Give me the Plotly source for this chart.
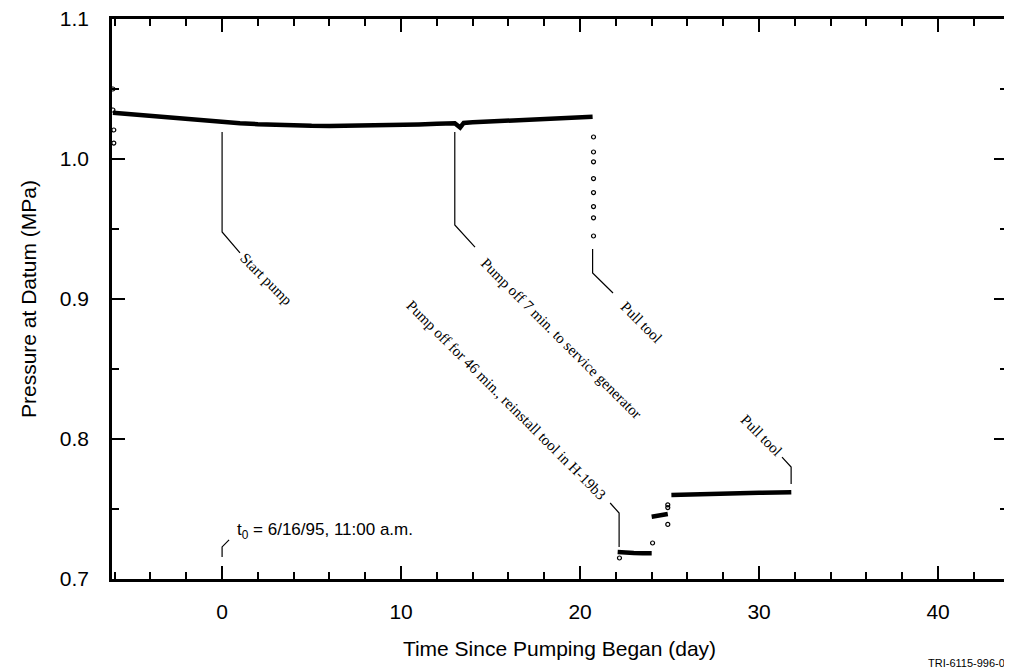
import plotly.graph_objects as go

# pressure record, days since pumping began / MPa
main_day = [-6.1, -5, -4, -3, -2, -1, 0, 1, 2, 3, 4, 5, 6, 7, 8, 9, 10, 11, 12,
            13, 13.3, 13.5, 14, 15, 16, 17, 18, 19, 20, 20.7]
main_p = [1.0330, 1.0318, 1.0306, 1.0295, 1.0285, 1.0274, 1.0265, 1.0256, 1.0249,
          1.0243, 1.0239, 1.0237, 1.0236, 1.0237, 1.0238, 1.0240, 1.0243, 1.0247,
          1.0252, 1.0256, 1.0225, 1.0258, 1.0262, 1.0268, 1.0274, 1.0280, 1.0286,
          1.0292, 1.0297, 1.0302]

low_day = [22.1, 22.5, 23.0, 23.5, 24.0]
low_p = [0.7192, 0.7186, 0.7185, 0.7184, 0.7184]

mid_day = [24.0, 24.3, 24.6, 24.9]
mid_p = [0.7445, 0.7452, 0.7458, 0.7464]

high_day = [25.1, 26, 27, 28, 29, 30, 31, 31.8]
high_p = [0.7600, 0.7604, 0.7608, 0.7611, 0.7614, 0.7616, 0.7618, 0.7620]

# scattered single readings (open circles)
pt_day = [-6.1, -6.1, -6.05, -6.05, 20.75, 20.75, 20.75, 20.75, 20.75, 20.75, 20.75,
          20.75, 22.2, 24.05, 24.9, 24.9, 24.9]
pt_p = [1.050, 1.035, 1.0207, 1.0114, 1.0157, 1.005, 0.998, 0.986, 0.976, 0.966,
        0.958, 0.945, 0.715, 0.7257, 0.753, 0.751, 0.739]

# annotation text: (label, centre day, centre MPa)
notes = [
    ("Start pump", 2.46, 0.9143),
    ("Pump off 7 min. to service generator", 18.91, 0.8718),
    ("Pull tool", 23.41, 0.8836),
    ("Pump off for 46 min., reinstall tool in H-19b3", 15.87, 0.8279),
    ("Pull tool", 30.11, 0.8029),
]

# leader lines, each a list of (day, MPa) vertices
leaders = [
    [(0, 1.0193), (0, 0.9479), (1.0, 0.9329)],
    [(13.0, 1.0193), (13.0, 0.9529), (14.13, 0.9371)],
    [(20.7, 0.9357), (20.7, 0.9186), (21.84, 0.9043)],
    [(21.68, 0.7543), (22.18, 0.7471), (22.18, 0.7229)],
    [(31.28, 0.7871), (31.79, 0.7800), (31.79, 0.7679)],
    [(0, 0.7157), (0, 0.7229), (0.39, 0.7279)],
]

fig = go.Figure()

for xs, ys in [(main_day, main_p), (low_day, low_p), (mid_day, mid_p), (high_day, high_p)]:
    fig.add_trace(go.Scatter(x=xs, y=ys, mode='lines',
                             line=dict(color='black', width=4.5),
                             showlegend=False, hoverinfo='skip'))

fig.add_trace(go.Scatter(x=pt_day, y=pt_p, mode='markers',
                         marker=dict(symbol='circle-open', size=4, color='black',
                                     line=dict(width=1.2)),
                         showlegend=False, hoverinfo='skip'))

shapes = []
for pts in leaders:
    path = 'M ' + ' L '.join('{} {}'.format(x, y) for x, y in pts)
    shapes.append(dict(type='path', path=path, xref='x', yref='y',
                       line=dict(color='black', width=1.2)))

annotations = []
for text, x, y in notes:
    annotations.append(dict(x=x, y=y, xref='x', yref='y', text=text,
                            textangle=45, showarrow=False,
                            font=dict(family='Liberation Serif, Times New Roman, serif',
                                      size=15, color='black')))

annotations.append(dict(x=0.73, y=0.7343, xref='x', yref='y',
                        text='t<sub>0</sub> = 6/16/95, 11:00 a.m.',
                        xanchor='left', yanchor='middle', showarrow=False,
                        font=dict(family='Liberation Sans, Arial', size=17, color='black')))

annotations.append(dict(x=1.0, y=-0.15, xref='paper', yref='paper',
                        text='TRI-6115-996-0', xanchor='right', yanchor='middle',
                        showarrow=False,
                        font=dict(family='Liberation Sans, Arial', size=11, color='black')))

axis_font = dict(family='Liberation Sans, Arial', size=21, color='black')

# the page body adds an 8px offset, so margins are shifted to compensate
fig.update_layout(
    width=1012, height=672,
    margin=dict(l=104, r=13, t=11, b=101),
    plot_bgcolor='white', paper_bgcolor='white',
    shapes=shapes, annotations=annotations,
    xaxis=dict(range=[-6.15, 43.85], tick0=0, dtick=10, automargin=False,
               ticks='inside', ticklen=13, tickwidth=2, tickcolor='black',
               minor=dict(dtick=2, ticks='inside', ticklen=7, tickwidth=1.5,
                          tickcolor='black'),
               showline=True, linecolor='black', linewidth=2.5, mirror='ticks',
               showgrid=False, zeroline=False, tickfont=axis_font,
               ticklabelstandoff=12, ticklabeloverflow='allow',
               title=dict(text='Time Since Pumping Began (day)', font=axis_font,
                          standoff=20)),
    yaxis=dict(range=[0.7, 1.1], tick0=0.7, dtick=0.1, tickformat='.1f',
               automargin=False,
               ticks='inside', ticklen=13, tickwidth=2, tickcolor='black',
               minor=dict(dtick=0.05, ticks='inside', ticklen=7, tickwidth=1.5,
                          tickcolor='black'),
               showline=True, linecolor='black', linewidth=2.5, mirror='ticks',
               showgrid=False, zeroline=False, tickfont=axis_font,
               ticklabelstandoff=16, ticklabeloverflow='allow',
               title=dict(text='Pressure at Datum (MPa)', font=axis_font,
                          standoff=18)),
)

fig.write_html("out.html")
